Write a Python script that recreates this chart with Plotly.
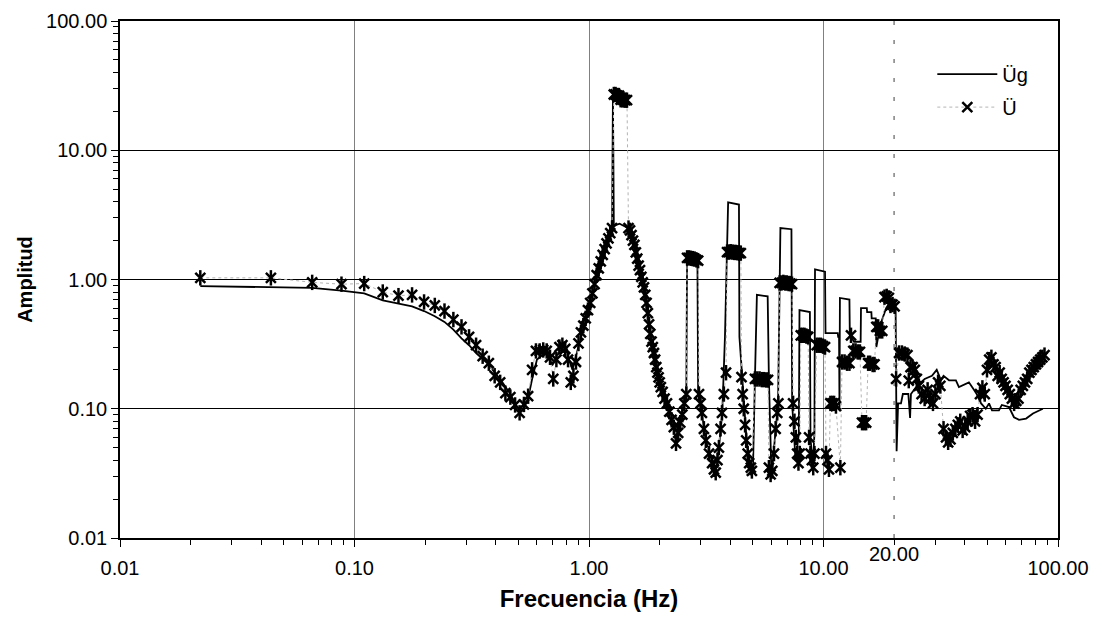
import plotly.graph_objects as go
import math

# ---------------- data ----------------
# Ü (structure response) : frequency (Hz) / amplitude
freq_u = [0.022, 0.044, 0.066, 0.088, 0.110, 0.132, 0.154, 0.176, 0.198, 0.220,
          0.242, 0.264, 0.286, 0.308, 0.330, 0.352, 0.374, 0.396, 0.418, 0.440,
          0.462, 0.484, 0.506, 0.528, 0.550, 0.572, 0.594, 0.616, 0.638, 0.660,
          0.682, 0.704, 0.726, 0.748, 0.770, 0.792, 0.814, 0.836, 0.858, 0.880,
          0.902, 0.924, 0.946, 0.968, 0.990, 1.012, 1.034, 1.056, 1.078, 1.100,
          1.122, 1.144, 1.166, 1.188, 1.210, 1.232, 1.254, 1.276, 1.298, 1.320,
          1.342, 1.364, 1.386, 1.408, 1.430, 1.452, 1.474, 1.496, 1.518, 1.540,
          1.562, 1.584, 1.606, 1.628, 1.650, 1.672, 1.694, 1.716, 1.738, 1.760,
          1.782, 1.804, 1.826, 1.848, 1.870, 1.892, 1.914, 1.936, 1.958, 1.980,
          2.002, 2.024, 2.060, 2.100, 2.150, 2.200, 2.250, 2.300, 2.350, 2.400,
          2.450, 2.500, 2.550, 2.600, 2.620, 2.670, 2.720, 2.770, 2.820, 2.870,
          2.920, 2.945, 2.990, 3.030, 3.090, 3.150, 3.250, 3.350, 3.410, 3.470,
          3.530, 3.580, 3.640, 3.690, 3.760, 3.840, 3.880, 3.950, 4.020, 4.090,
          4.160, 4.230, 4.300, 4.370, 4.440, 4.470, 4.520, 4.570, 4.630, 4.680,
          4.750, 4.820, 4.900, 4.950, 5.100, 5.220, 5.340, 5.460, 5.580, 5.700,
          5.800, 5.850, 5.950, 6.050, 6.150, 6.250, 6.350, 6.420, 6.500, 6.620,
          6.740, 6.860, 6.980, 7.100, 7.220, 7.340, 7.420, 7.520, 7.620, 7.720,
          7.820, 7.920, 8.000, 8.150, 8.300, 8.450, 8.600, 8.680, 8.800, 8.920,
          9.040, 9.150, 9.350, 9.550, 9.750, 9.950, 10.15, 10.25, 10.40, 10.55,
          10.70, 10.90, 11.10, 11.30, 11.80, 12.00, 12.30, 12.60, 12.90, 13.10,
          13.40, 13.70, 14.00, 14.30, 14.60, 14.90, 15.20, 15.50, 15.80, 16.20,
          16.50, 16.80, 17.10, 17.40, 17.80, 18.20, 18.60, 19.00, 19.30, 19.70,
          20.10, 20.40, 21.00, 21.60, 22.20, 22.80, 23.10, 23.50, 24.00, 24.50,
          25.00, 25.50, 26.20, 27.00, 27.80, 28.50, 29.30, 30.00, 30.80, 31.50,
          32.50, 33.30, 34.00, 34.80, 35.60, 36.50, 37.40, 38.30, 39.20, 40.20,
          41.20, 42.20, 43.20, 44.30, 45.40, 46.50, 47.60, 48.70, 49.80, 50.90,
          52.00, 53.10, 54.20, 55.30, 56.40, 57.50, 58.60, 59.70, 61.00, 62.30,
          63.60, 65.00, 66.40, 67.80, 69.30, 70.80, 72.30, 73.90, 75.50, 77.10,
          78.80, 80.50, 82.20, 84.00, 85.80, 87.60]
amp_u = [1.03, 1.03, 0.95, 0.92, 0.93, 0.80, 0.75, 0.76, 0.67, 0.63,
         0.57, 0.49, 0.43, 0.36, 0.31, 0.255, 0.225, 0.18, 0.16, 0.132,
         0.123, 0.107, 0.093, 0.108, 0.125, 0.20, 0.28, 0.28, 0.285, 0.28,
         0.25, 0.17, 0.24, 0.30, 0.31, 0.29, 0.24, 0.16, 0.18, 0.23,
         0.32, 0.39, 0.44, 0.50, 0.58, 0.66, 0.78, 0.92, 1.08, 1.22,
         1.38, 1.55, 1.72, 1.90, 2.08, 2.28, 2.50, 27.0, 27.0, 26.5,
         26.5, 24.6, 24.6, 24.5, 24.4, 24.4, 2.50, 2.40, 2.20, 2.00,
         1.85, 1.62, 1.45, 1.28, 1.18, 1.05, 0.95, 0.87, 0.76, 0.66,
         0.55, 0.45, 0.38, 0.33, 0.30, 0.27, 0.24, 0.21, 0.19, 0.175,
         0.16, 0.147, 0.135, 0.12, 0.11, 0.095, 0.082, 0.072, 0.054, 0.065,
         0.078, 0.09, 0.11, 0.13, 1.47, 1.47, 1.46, 1.45, 1.44, 1.42,
         1.40, 0.13, 0.11, 0.093, 0.07, 0.057, 0.045, 0.038, 0.034, 0.032,
         0.04, 0.05, 0.07, 0.093, 0.13, 0.19, 1.63, 1.63, 1.64, 1.63,
         1.62, 1.62, 1.61, 1.60, 1.60, 0.176, 0.13, 0.10, 0.075, 0.057,
         0.045, 0.038, 0.035, 0.033, 0.17, 0.17, 0.17, 0.168, 0.168, 0.167,
         0.167, 0.035, 0.031, 0.033, 0.045, 0.07, 0.093, 0.11, 0.94, 0.94,
         0.95, 0.94, 0.94, 0.93, 0.93, 0.92, 0.11, 0.08, 0.06, 0.045,
         0.038, 0.045, 0.37, 0.37, 0.37, 0.365, 0.36, 0.06, 0.045, 0.04,
         0.035, 0.045, 0.31, 0.31, 0.31, 0.305, 0.30, 0.045, 0.04, 0.034,
         0.11, 0.11, 0.11, 0.105, 0.035, 0.23, 0.23, 0.225, 0.225, 0.37,
         0.28, 0.28, 0.275, 0.275, 0.078, 0.078, 0.078, 0.225, 0.225, 0.22,
         0.22, 0.43, 0.43, 0.40, 0.40, 0.73, 0.74, 0.72, 0.63, 0.64,
         0.62, 0.17, 0.27, 0.27, 0.265, 0.26, 0.165, 0.21, 0.21, 0.20,
         0.17, 0.15, 0.13, 0.12, 0.14, 0.12, 0.11, 0.13, 0.16, 0.15,
         0.07, 0.06, 0.055, 0.058, 0.065, 0.07, 0.075, 0.08, 0.068, 0.072,
         0.08, 0.088, 0.09, 0.08, 0.09, 0.13, 0.145, 0.13, 0.20, 0.24,
         0.25, 0.22, 0.21, 0.18, 0.19, 0.17, 0.16, 0.15, 0.14, 0.13,
         0.12, 0.11, 0.115, 0.12, 0.14, 0.15, 0.16, 0.17, 0.19, 0.20,
         0.21, 0.22, 0.23, 0.24, 0.25, 0.26]

# Üg (ground) : frequency (Hz) / amplitude
freq_g = [0.022, 0.044, 0.066, 0.088, 0.110, 0.132, 0.154, 0.176, 0.198, 0.220,
          0.242, 0.264, 0.286, 0.308, 0.330, 0.352, 0.374, 0.396, 0.418, 0.440,
          0.462, 0.484, 0.506, 0.528, 0.550, 0.572, 0.600, 0.650, 0.700, 0.750,
          0.800, 0.850, 0.900, 0.950, 1.000, 1.050, 1.100, 1.150, 1.200, 1.254,
          1.265, 1.276, 1.350, 1.466, 1.555, 1.634, 1.716, 1.800, 1.900, 2.030,
          2.150, 2.300, 2.350, 2.470, 2.600, 2.620, 2.900, 2.920, 3.030, 3.150,
          3.350, 3.470, 3.580, 3.700, 3.800, 3.920, 4.360, 4.380, 4.500, 4.600,
          4.700, 4.850, 5.000, 5.100, 5.200, 5.780, 5.850, 6.000, 6.200, 6.400,
          6.550, 7.300, 7.350, 7.600, 7.850, 7.900, 8.750, 8.800, 9.000, 9.150,
          9.200, 10.15, 10.20, 11.50, 11.55, 11.65, 11.70, 11.75, 12.90, 12.95,
          13.50, 14.40, 14.45, 15.30, 15.35, 16.00, 16.05, 16.70, 16.80, 17.50,
          18.50, 19.50, 20.30, 20.50, 20.80, 21.40, 21.80, 23.00, 23.40, 23.60,
          25.00, 27.00, 29.00, 30.40, 31.70, 32.50, 34.30, 36.70, 37.80, 40.00,
          41.70, 43.80, 45.00, 47.00, 49.20, 50.80, 52.30, 56.00, 57.60, 61.80,
          64.90, 68.20, 73.10, 78.20, 86.20]
amp_g = [0.89, 0.875, 0.86, 0.82, 0.78, 0.69, 0.65, 0.62, 0.57, 0.52,
         0.47, 0.41, 0.35, 0.31, 0.27, 0.245, 0.22, 0.19, 0.17, 0.148,
         0.13, 0.11, 0.095, 0.10, 0.12, 0.17, 0.24, 0.27, 0.22, 0.28,
         0.28, 0.20, 0.30, 0.45, 0.62, 0.88, 1.22, 1.58, 2.00, 2.50,
         26.0, 2.60, 2.70, 2.50, 1.90, 1.25, 0.87, 0.45, 0.25, 0.147,
         0.11, 0.072, 0.054, 0.086, 0.13, 1.47, 1.42, 0.13, 0.093, 0.057,
         0.038, 0.032, 0.05, 0.092, 0.36, 3.95, 3.80, 0.36, 0.19, 0.10,
         0.057, 0.038, 0.033, 0.17, 0.76, 0.74, 0.17, 0.03, 0.06, 0.11,
         2.50, 2.45, 0.11, 0.04, 0.064, 0.58, 0.56, 0.06, 0.035, 0.065,
         1.20, 1.15, 0.385, 0.385, 0.36, 0.36, 0.10, 0.72, 0.70, 0.37,
         0.33, 0.33, 0.60, 0.60, 0.56, 0.56, 0.50, 0.50, 0.30, 0.45,
         0.60, 0.70, 0.63, 0.047, 0.11, 0.11, 0.13, 0.13, 0.085, 0.13,
         0.15, 0.17, 0.18, 0.20, 0.166, 0.18, 0.166, 0.166, 0.147, 0.155,
         0.16, 0.14, 0.13, 0.11, 0.10, 0.11, 0.097, 0.097, 0.107, 0.103,
         0.086, 0.082, 0.084, 0.092, 0.10]

x_ticks = [0.01, 0.1, 1, 10, 100]
x_tick_text = ["0.01", "0.10", "1.00", "10.00", "100.00"]
y_ticks = [0.01, 0.1, 1, 10, 100]
y_tick_text = ["0.01", "0.10", "1.00", "10.00", "100.00"]
ref_freq = 20.0
ref_label = "20.00"

FONT = "Liberation Sans, Arial, sans-serif"

fig = go.Figure()

# 20 Hz reference line
fig.add_trace(go.Scatter(
    x=[ref_freq, ref_freq], y=[0.01, 100], mode="lines",
    line=dict(color="#808080", width=1.5, dash="4px,15px"),
    showlegend=False, hoverinfo="skip"))

# Üg
fig.add_trace(go.Scatter(
    x=freq_g, y=amp_g, mode="lines", name="Üg",
    line=dict(color="black", width=1.8),
    legendgroup="g"))

# Ü : dotted grey line + asterisk markers (x + vertical bar)
fig.add_trace(go.Scatter(
    x=freq_u, y=amp_u, mode="lines+markers", name="Ü",
    line=dict(color="#b4b4b4", width=1, dash="dot"),
    marker=dict(symbol="x-thin-open", size=10,
                line=dict(color="black", width=2.5), color="black"),
    legendgroup="u"))
fig.add_trace(go.Scatter(
    x=freq_u, y=amp_u, mode="markers",
    marker=dict(symbol="line-ns-open", size=11,
                line=dict(color="black", width=2.5), color="black"),
    showlegend=False, hoverinfo="skip", legendgroup="u"))

# 20.00 label below the axis
fig.add_annotation(
    x=math.log10(ref_freq), y=-0.03, xref="x", yref="paper",
    text=ref_label, showarrow=False, yanchor="middle",
    font=dict(family=FONT, size=20, color="black"))

axis_common = dict(
    type="log", showline=True, linecolor="black", linewidth=1.5, mirror=True,
    ticks="outside", ticklen=7, tickcolor="black", tickwidth=1,
    tickfont=dict(family=FONT, size=20, color="black"),
    minor=dict(ticks="outside", ticklen=5, tickcolor="black", dtick="D1",
               showgrid=False),
    zeroline=False, automargin=False,
)

fig.update_xaxes(
    **axis_common,
    range=[-2, 2], tickvals=x_ticks, ticktext=x_tick_text,
    showgrid=True, gridcolor="#808080", gridwidth=1,
    ticklabelstandoff=4,
    title=dict(text="<b>Frecuencia (Hz)</b>", standoff=12,
               font=dict(family=FONT, size=24, color="black")),
)
fig.update_yaxes(
    **axis_common,
    range=[-2, 2], tickvals=y_ticks, ticktext=y_tick_text,
    showgrid=True, gridcolor="black", gridwidth=1,
    title=dict(text="<b>Amplitud</b>", standoff=8,
               font=dict(family=FONT, size=20, color="black")),
)

fig.update_layout(
    width=1096, height=618,
    margin=dict(l=120, r=38, t=21, b=80),
    paper_bgcolor="white", plot_bgcolor="white",
    showlegend=True,
    legend=dict(x=0.866, y=0.935, xanchor="left", yanchor="top",
                bgcolor="rgba(0,0,0,0)", borderwidth=0,
                font=dict(family=FONT, size=20, color="black"),
                tracegroupgap=4, itemwidth=60),
)

fig.write_html("out.html")
